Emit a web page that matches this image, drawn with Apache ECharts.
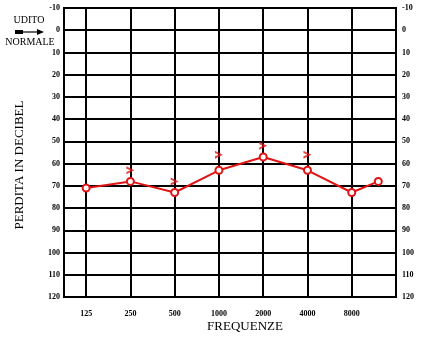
<!DOCTYPE html>
<html>
<head>
<meta charset="utf-8">
<script src="https://cdn.jsdelivr.net/npm/echarts@6/dist/echarts.min.js"></script>
<style>html,body{margin:0;padding:0;background:#fff}#c{width:427px;height:339px}</style>
</head>
<body>
<div id="c"></div>
<script>
// Data
var frequencies = ['125', '250', '500', '1000', '2000', '4000', '8000'];
var dbTicks = [-10, 0, 10, 20, 30, 40, 50, 60, 70, 80, 90, 100, 110, 120];
// air conduction (circles), positions in frequency steps (0 = 125 Hz)
var airPos = [0, 1, 2, 3, 4, 5, 6, 6.6];
var airDb = [71, 68, 73, 63, 57, 63, 73, 68];
// bone conduction (">" marks)
var bonePos = [1, 2, 3, 4, 5];
var boneDb = [63, 68, 56, 52, 56];

var RED = '#e01414';
var FONT = '"Liberation Serif", "DejaVu Serif", serif';

// category slots: half-steps, slot = 1 + 2*pos
var slots = [];
for (var i = 0; i < 16; i++) slots.push('');
frequencies.forEach(function (f, k) { slots[1 + 2 * k] = f; });
function toSlot(p) { return 1 + 2 * p; }

var airData = airPos.map(function (p, k) { return [toSlot(p), airDb[k]]; });
var boneData = bonePos.map(function (p, k) { return [toSlot(p), boneDb[k]]; });

var chart = echarts.init(document.getElementById('c'), null, { renderer: 'canvas' });
var yCommon = {
  type: 'value', inverse: true, min: dbTicks[0], max: dbTicks[dbTicks.length - 1], interval: 10,
  axisTick: { show: false },
  axisLine: { show: true, lineStyle: { color: '#000', width: 2 } }
};
chart.setOption({
  animation: false,
  grid: { left: 64, right: 31, top: 8, bottom: 42, show: true, borderColor: '#000', borderWidth: 2 },
  xAxis: [
    {
      type: 'category', data: slots, boundaryGap: false,
      axisLine: { show: true, lineStyle: { color: '#000', width: 2 } },
      axisTick: { show: false },
      axisLabel: { interval: 0, color: '#000', fontFamily: FONT, fontSize: 8, fontWeight: 'bold', margin: 13 },
      splitLine: { show: true, interval: function (i) { return i % 2 === 1 && i < 15; }, lineStyle: { color: '#000', width: 2 } }
    },
    { type: 'value', min: 0, max: 15, show: false }
  ],
  yAxis: [
    Object.assign({}, yCommon, {
      position: 'left',
      axisLabel: { color: '#000', fontFamily: FONT, fontSize: 8, fontWeight: 'bold', margin: 4, padding: [4, 0, 0, 0] },
      splitLine: { show: true, lineStyle: { color: '#000', width: 2 } }
    }),
    Object.assign({}, yCommon, {
      position: 'right',
      axisLabel: { color: '#000', fontFamily: FONT, fontSize: 8, fontWeight: 'bold', margin: 6, padding: [4, 0, 0, 0] },
      splitLine: { show: false }
    })
  ],
  series: [
    {
      type: 'line', xAxisIndex: 1, yAxisIndex: 0, data: airData,
      symbol: 'emptyCircle', symbolSize: 7,
      lineStyle: { color: RED, width: 2 },
      itemStyle: { color: RED, borderColor: RED, borderWidth: 2 }
    },
    {
      type: 'scatter', xAxisIndex: 1, yAxisIndex: 0, data: boneData,
      symbol: 'path://M0,0 L10,5 L0,10 L0,7 L5,5 L0,3 Z', symbolSize: [8, 8],
      itemStyle: { color: RED }
    }
  ],
  graphic: [
    { type: 'text', style: { text: 'FREQUENZE', x: 245, y: 327, fontFamily: FONT, fontSize: 13, fill: '#000', textAlign: 'center', textVerticalAlign: 'middle' } },
    { type: 'text', x: 20, y: 165, rotation: Math.PI / 2, style: { text: 'PERDITA IN DECIBEL', fontFamily: FONT, fontSize: 13, fill: '#000', textAlign: 'center', textVerticalAlign: 'middle' } },
    { type: 'text', style: { text: 'UDITO', x: 29, y: 20, fontFamily: FONT, fontSize: 10, fill: '#000', textAlign: 'center', textVerticalAlign: 'middle' } },
    { type: 'text', style: { text: 'NORMALE', x: 30, y: 42, fontFamily: FONT, fontSize: 10, fill: '#000', textAlign: 'center', textVerticalAlign: 'middle' } },
    { type: 'rect', shape: { x: 15, y: 30, width: 8, height: 4 }, style: { fill: '#000' } },
    { type: 'line', shape: { x1: 22, y1: 32, x2: 40, y2: 32 }, style: { stroke: '#000', lineWidth: 1.2 } },
    { type: 'polygon', shape: { points: [[37, 29], [44, 32], [37, 35]] }, style: { fill: '#000' } }
  ]
});
</script>
</body>
</html>
